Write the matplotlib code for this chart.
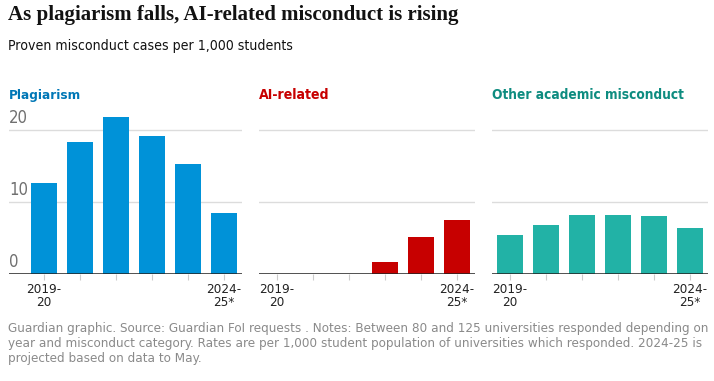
import matplotlib.pyplot as plt
import matplotlib.transforms as mtransforms

# Daten (Fälle pro 1.000 Studierende)
years = ['2019-20', '2020-21', '2021-22', '2022-23', '2023-24', '2024-25*']
tick_labels = ['2019-\n20', '', '', '', '', '2024-\n25*']
plagiarism = [12.6, 18.2, 21.7, 19.1, 15.2, 8.4]
ai_related = [0, 0, 0, 1.6, 5.1, 7.5]
other = [5.3, 6.7, 8.1, 8.1, 8.0, 6.3]

panel_titles = ['Plagiarism', 'AI-related', 'Other academic misconduct']
title_colors = ['#0077b6', '#c70000', '#0e8c80']
bar_colors = ['#0092d8', '#c70000', '#22b2a6']
series = [plagiarism, ai_related, other]

sans = ['DejaVu Sans']
W, H = 714, 381
fig = plt.figure(figsize=(W / 100, H / 100), dpi=100)

# Achsenpositionen in Pixeln (links, rechts)
panels = [(9, 242, -0.97), (259, 475, -0.5), (492, 708, -0.5)]
title_widths = [72, 71, 192]
base_y = 273.5
px_per_unit = 7.2
ymax = 22

fit = []  # (Text, Zielbreite in Pixeln)

for i, (x0, x1, xmin) in enumerate(panels):
    ax = fig.add_axes([x0 / W, (H - base_y) / H, (x1 - x0) / W,
                       ymax * px_per_unit / H])
    x = range(len(years))
    ax.bar(x, series[i], width=0.72, color=bar_colors[i], zorder=3)
    ax.set_xlim(xmin, 5.5)
    ax.set_ylim(0, ymax)
    for g in (10, 20):
        ax.axhline(g, color='#dcdcdc', lw=1, zorder=1)
    ax.axhline(0, color='#222222', lw=1.1, zorder=4)
    for s in ax.spines.values():
        s.set_visible(False)
    ax.set_yticks([])
    ax.set_xticks(list(x))
    ax.set_xticklabels(tick_labels, fontsize=9.6, color='#222222',
                       family=sans, stretch='condensed', linespacing=1.0)
    ax.tick_params(axis='x', length=4, color='#cccccc', pad=3)
    t = ax.text(0, 1.085, panel_titles[i], transform=ax.transAxes, fontsize=11,
                fontweight='bold', color=title_colors[i], family=sans,
                stretch='condensed', ha='left', va='bottom')
    fit.append((t, title_widths[i]))
    if i == 0:
        trans = mtransforms.blended_transform_factory(ax.transAxes, ax.transData)
        for v in (0, 10, 20):
            ax.annotate(str(v), xy=(0, v), xycoords=trans,
                        xytext=(0, 2), textcoords='offset points',
                        fontsize=12, color='#707070', family=sans,
                        stretch='condensed', ha='left', va='bottom')

t = fig.text(8 / W, 1 - 5 / H, 'As plagiarism falls, AI-related misconduct is rising',
             fontsize=16.5, fontweight='bold', family=['Liberation Serif', 'DejaVu Serif'],
             color='#121212', ha='left', va='top')
fit.append((t, 450))
t = fig.text(8 / W, 1 - 39 / H, 'Proven misconduct cases per 1,000 students',
             fontsize=11.5, family=sans, stretch='condensed', color='#121212',
             ha='left', va='top')
fit.append((t, 285))

footer = ('Guardian graphic. Source: Guardian FoI requests . Notes: Between 80 and 125 '
          'universities responded depending on\nyear and misconduct category. Rates are '
          'per 1,000 student population of universities which responded. 2024-25 is\n'
          'projected based on data to May.')
t = fig.text(8 / W, 1 - 322 / H, footer, fontsize=10.3, family=sans,
             stretch='condensed', color='#8a8a8a', ha='left', va='top',
             linespacing=1.2)
fit.append((t, 700))

# Schriftgrößen an die Breiten der Vorlage anpassen
fig.canvas.draw()
r = fig.canvas.get_renderer()
for t, w in fit:
    bw = t.get_window_extent(r).width
    t.set_fontsize(t.get_fontsize() * w / bw)

fig.savefig('out.png', dpi=100)
